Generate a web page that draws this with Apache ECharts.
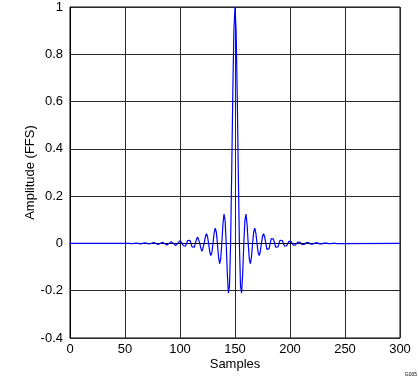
<!DOCTYPE html>
<html>
<head>
<meta charset="utf-8">
<script src="https://cdn.jsdelivr.net/npm/echarts@6/dist/echarts.min.js"></script>
<style>
html,body{margin:0;padding:0;background:#fff;}
#chart{width:419px;height:382px;}
</style>
</head>
<body>
<div id="chart"></div>
<script>
// X axis range / ticks
const xTicks = [0, 50, 100, 150, 200, 250, 300];
const yTicks = [-0.4, -0.2, 0, 0.2, 0.4, 0.6, 0.8, 1];
// blue baseline extends across the whole axis
const edgeSamples = [0, 300];
// first sample index of the impulse response
const sampleStart = 54;
// Amplitude (FFS), one value per sample, 54..246
const amplitude = [
  0, -0.0007, -0.001, -0.0007, 0, 0.0008, 0.0012, 0.0009,
  0, -0.001, -0.0015, -0.0011, 0, 0.0014, 0.002, 0.0015,
  0, -0.0018, -0.0026, -0.0019, 0, 0.0022, 0.0032, 0.0024,
  0, -0.0028, -0.0041, -0.003, 0, 0.0034, 0.005, 0.0037,
  0, -0.0042, -0.0062, -0.0045, 0, 0.0049, 0.0075, 0.0056,
  0, -0.0063, -0.0095, -0.0071, 0, 0.008, 0.0119, 0.0089,
  0, -0.0099, -0.0147, -0.011, 0, 0.012, 0.018, 0.0135,
  0, -0.015, -0.022, -0.016, 0, 0.018, 0.027, 0.020,
  0, -0.022, -0.033, -0.025, 0, 0.027, 0.041, 0.030,
  0, -0.034, -0.051, -0.038, 0, 0.043, 0.065, 0.049,
  0, -0.056, -0.086, -0.066, 0, 0.079, 0.124, 0.098,
  0, -0.127, -0.210, -0.179, 0, 0.299, 0.636, 0.900,
  1.000,
  0.900, 0.636, 0.299, 0, -0.179, -0.210, -0.127, 0,
  0.098, 0.124, 0.079, 0, -0.066, -0.086, -0.056, 0,
  0.049, 0.065, 0.043, 0, -0.038, -0.051, -0.034, 0,
  0.030, 0.041, 0.027, 0, -0.025, -0.033, -0.022, 0,
  0.020, 0.027, 0.018, 0, -0.016, -0.022, -0.015, 0,
  0.0135, 0.018, 0.012, 0, -0.011, -0.0147, -0.0099, 0,
  0.0089, 0.0119, 0.008, 0, -0.0071, -0.0095, -0.0063, 0,
  0.0056, 0.0075, 0.0049, 0, -0.0045, -0.0062, -0.0042, 0,
  0.0037, 0.005, 0.0034, 0, -0.003, -0.0041, -0.0028, 0,
  0.0024, 0.0032, 0.0022, 0, -0.0019, -0.0026, -0.0018, 0,
  0.0015, 0.002, 0.0014, 0, -0.0011, -0.0015, -0.001, 0,
  0.0009, 0.0012, 0.0008, 0, -0.0007, -0.001, -0.0007, 0
];
const xName = 'Samples';
const yName = 'Amplitude (FFS)';
const codeLabel = 'G005';

const data = [[edgeSamples[0], 0]];
amplitude.forEach((v, i) => data.push([sampleStart + i, v]));
data.push([edgeSamples[1], 0]);

const font = 'Liberation Sans, Arial, sans-serif';
const gridColor = '#2a2a2a';
const chart = echarts.init(document.getElementById('chart'), null, {renderer: 'canvas'});
chart.setOption({
  animation: false,
  backgroundColor: '#ffffff',
  grid: {left: 70, right: 19, top: 7, bottom: 44, containLabel: false,
         show: true, borderColor: '#000', borderWidth: 1},
  xAxis: {
    type: 'value', min: xTicks[0], max: xTicks[xTicks.length - 1], interval: 50,
    name: xName, nameLocation: 'middle', nameGap: 20, nameMoveOverlap: false,
    nameTextStyle: {color: '#000', fontSize: 13, fontFamily: font},
    axisLine: {show: true, lineStyle: {color: '#000', width: 1}},
    axisTick: {show: false},
    axisLabel: {color: '#000', fontSize: 13, fontFamily: font, margin: 5},
    splitLine: {show: true, lineStyle: {color: gridColor, width: 1}}
  },
  yAxis: {
    type: 'value', min: yTicks[0], max: yTicks[yTicks.length - 1], interval: 0.2,
    name: yName, nameLocation: 'middle', nameGap: 33, nameRotate: 90, nameMoveOverlap: false,
    nameTextStyle: {color: '#000', fontSize: 13, fontFamily: font},
    axisLine: {show: true, onZero: false, lineStyle: {color: '#000', width: 1}},
    axisTick: {show: false},
    axisLabel: {color: '#000', fontSize: 13, fontFamily: font, margin: 7,
      formatter: v => String(parseFloat(v.toFixed(1)))},
    splitLine: {show: true, lineStyle: {color: gridColor, width: 1}}
  },
  graphic: [{
    type: 'text', right: 2, top: 372,
    style: {text: codeLabel, fontSize: 5, fontFamily: font, fill: '#000'}
  }],
  series: [{
    type: 'line', data: data, showSymbol: false, symbol: 'none',
    lineStyle: {color: '#0000ff', width: 1.2}, z: 3
  }]
});
</script>
</body>
</html>
